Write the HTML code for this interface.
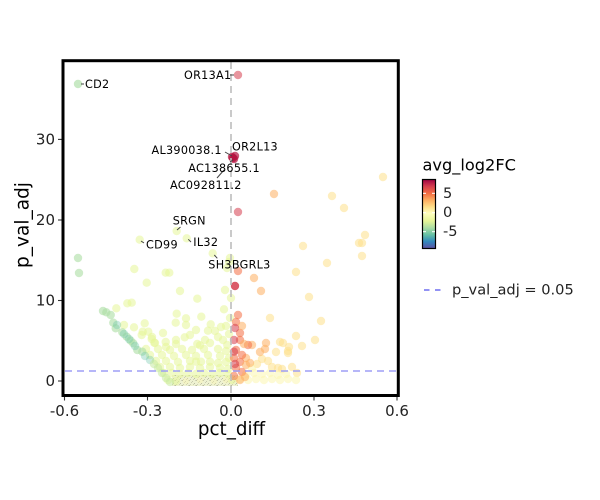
<!DOCTYPE html>
<html><head><meta charset="utf-8"><style>
html,body{margin:0;padding:0;background:#fff;}
svg{display:block;font-family:"DejaVu Sans","Liberation Sans",sans-serif;}
.g{fill:#e6f598;fill-opacity:.55}
.y{fill:#fbf5b0;fill-opacity:.55}
.m{fill:#abdda4;fill-opacity:.6}
.t{fill:#66c2a5;fill-opacity:.35}
.l{fill:#c7e9a0;fill-opacity:.55}
.p{fill:#fee08b;fill-opacity:.55}
.pk{fill:#fdae61;fill-opacity:.55}
.o{fill:#f46d43;fill-opacity:.55}
.r{fill:#d53e4f;fill-opacity:.55}
.rd{fill:#d53e4f;fill-opacity:.85}
.dr{fill:#b5133f;fill-opacity:.7}
</style></head><body>
<svg width="600" height="500" viewBox="0 0 600 500">
<defs>
<pattern id="sp" patternUnits="userSpaceOnUse" width="7" height="5">
<rect width="7" height="5" fill="#eef2d2"/>
<rect x="0" y="0" width="1" height="1" fill="#7a7a68" fill-opacity=".45"/>
<rect x="3" y="1" width="1" height="1" fill="#8a8a78" fill-opacity=".4"/>
<rect x="5" y="3" width="1" height="1" fill="#7a7a68" fill-opacity=".45"/>
<rect x="1" y="4" width="1" height="1" fill="#9a9a88" fill-opacity=".4"/>
<rect x="6" y="0" width="1" height="1" fill="#9a9a88" fill-opacity=".35"/>
<rect x="2" y="2" width="1" height="1" fill="#8a8a78" fill-opacity=".35"/>
<rect x="4" y="4" width="1" height="1" fill="#8a8a78" fill-opacity=".35"/>
</pattern>
<linearGradient id="cb" x1="0" y1="0" x2="0" y2="1">
<stop offset="0" stop-color="#9e0142"/>
<stop offset=".1" stop-color="#d53e4f"/>
<stop offset=".2" stop-color="#f46d43"/>
<stop offset=".3" stop-color="#fdae61"/>
<stop offset=".4" stop-color="#fee08b"/>
<stop offset=".49" stop-color="#ffffbf"/>
<stop offset=".6" stop-color="#e6f598"/>
<stop offset=".7" stop-color="#abdda4"/>
<stop offset=".8" stop-color="#66c2a5"/>
<stop offset=".9" stop-color="#3288bd"/>
<stop offset="1" stop-color="#5e4fa2"/>
</linearGradient>
</defs>
<rect width="600" height="500" fill="#fff"/>

<!-- speckle band -->
<rect x="172" y="375" width="66" height="11" fill="url(#sp)"/>

<g>
<!-- left sparse -->
<circle class="g" cx="139.7" cy="239.7" r="4.2"/><circle class="g" cx="176.7" cy="231" r="4.2"/><circle class="g" cx="186.7" cy="238.3" r="4.2"/><circle class="g" cx="212.7" cy="253.3" r="4.2"/><circle class="g" cx="134.3" cy="269" r="4.2"/><circle class="g" cx="165.7" cy="272.7" r="4.2"/><circle class="g" cx="169.3" cy="272.7" r="4.2"/><circle class="g" cx="146.7" cy="282.7" r="4.2"/><circle class="g" cx="180" cy="291" r="4.2"/><circle class="g" cx="197.3" cy="298.7" r="4.2"/><circle class="g" cx="131.7" cy="302.7" r="4.2"/><circle class="g" cx="127.3" cy="303.3" r="4.2"/><circle class="g" cx="116.3" cy="308.3" r="4.2"/><circle class="g" cx="224" cy="309.3" r="4.2"/><circle class="g" cx="201.3" cy="316.7" r="4.2"/><circle class="g" cx="186" cy="318.3" r="4.2"/><circle class="g" cx="230" cy="318" r="4.2"/><circle class="g" cx="230" cy="258" r="4.2"/><circle class="g" cx="227" cy="268" r="4.2"/><circle class="g" cx="231" cy="298" r="4.2"/><circle class="g" cx="176.7" cy="313.7" r="4.2"/><circle class="g" cx="210.7" cy="324.3" r="4.2"/><circle class="g" cx="144.7" cy="323.3" r="4.2"/><circle class="g" cx="175.7" cy="322.7" r="4.2"/><circle class="g" cx="134" cy="327.3" r="4.2"/><circle class="g" cx="196" cy="330" r="4.2"/><circle class="g" cx="208" cy="330.7" r="4.2"/><circle class="g" cx="142.7" cy="331.7" r="4.2"/><circle class="g" cx="148.3" cy="331.7" r="4.2"/><circle class="g" cx="141.7" cy="335" r="4.2"/><circle class="g" cx="151.7" cy="339" r="4.2"/><circle class="g" cx="184.7" cy="337.3" r="4.2"/><circle class="g" cx="197.3" cy="344" r="4.2"/><circle class="g" cx="200" cy="345.3" r="4.2"/><circle class="g" cx="165.7" cy="342" r="4.2"/><circle class="g" cx="154.3" cy="342.7" r="4.2"/><circle class="g" cx="218" cy="349" r="4.2"/><circle class="g" cx="227.3" cy="345" r="4.2"/>
<circle class="g" cx="124" cy="325" r="4.2"/><circle class="g" cx="186" cy="325" r="4.2"/><circle class="g" cx="163" cy="333" r="4.2"/><circle class="g" cx="190" cy="335" r="4.2"/><circle class="g" cx="215" cy="331" r="4.2"/><circle class="g" cx="221" cy="327" r="4.2"/><circle class="g" cx="205" cy="340" r="4.2"/><circle class="g" cx="229" cy="262" r="4.2"/><circle class="g" cx="225" cy="290" r="4.2"/><circle class="g" cx="226" cy="326" r="4.2"/><circle class="g" cx="229" cy="334" r="4.2"/><circle class="g" cx="223" cy="340" r="4.2"/>
<!-- dense rows -->
<circle class="g" cx="152" cy="337" r="4.2"/><circle class="g" cx="176" cy="340" r="4.2"/><circle class="g" cx="218" cy="337" r="4.2"/>
<circle class="g" cx="155" cy="343" r="4.2"/><circle class="g" cx="166" cy="347" r="4.2"/><circle class="g" cx="176" cy="344" r="4.2"/><circle class="g" cx="210" cy="343" r="4.2"/>
<circle class="g" cx="146" cy="349" r="4.2"/><circle class="g" cx="158" cy="349" r="4.2"/><circle class="g" cx="170" cy="350" r="4.2"/><circle class="g" cx="182" cy="349" r="4.2"/><circle class="g" cx="192" cy="350" r="4.2"/><circle class="g" cx="204" cy="349" r="4.2"/><circle class="g" cx="226" cy="351" r="4.2"/>
<circle class="g" cx="150" cy="355" r="4.2"/><circle class="g" cx="162" cy="355" r="4.2"/><circle class="g" cx="174" cy="356" r="4.2"/><circle class="g" cx="186" cy="355" r="4.2"/><circle class="g" cx="196" cy="356" r="4.2"/><circle class="g" cx="208" cy="355" r="4.2"/><circle class="g" cx="220" cy="356" r="4.2"/><circle class="g" cx="229" cy="358" r="4.2"/>
<circle class="g" cx="156" cy="361" r="4.2"/><circle class="g" cx="166" cy="361" r="4.2"/><circle class="g" cx="178" cy="362" r="4.2"/><circle class="g" cx="190" cy="361" r="4.2"/><circle class="g" cx="196" cy="361.7" r="4.2"/><circle class="g" cx="201" cy="361.7" r="4.2"/><circle class="g" cx="210" cy="361.7" r="4.2"/><circle class="g" cx="218" cy="363" r="4.2"/><circle class="g" cx="226" cy="362" r="4.2"/>
<circle class="g" cx="160" cy="367" r="4.2"/><circle class="g" cx="170" cy="367" r="4.2"/><circle class="g" cx="180" cy="368" r="4.2"/><circle class="g" cx="190" cy="367" r="4.2"/><circle class="g" cx="200" cy="368" r="4.2"/><circle class="g" cx="210" cy="367" r="4.2"/><circle class="g" cx="220" cy="368" r="4.2"/><circle class="g" cx="228" cy="369" r="4.2"/>
<circle class="g" cx="164" cy="373" r="4.2"/><circle class="g" cx="172" cy="373" r="4.2"/><circle class="g" cx="180" cy="374" r="4.2"/><circle class="g" cx="188" cy="373" r="4.2"/><circle class="g" cx="196" cy="374" r="4.2"/><circle class="g" cx="204" cy="373" r="4.2"/><circle class="g" cx="212" cy="374" r="4.2"/><circle class="g" cx="220" cy="373" r="4.2"/><circle class="g" cx="228" cy="374" r="4.2"/>
<circle class="g" cx="168" cy="380" r="4.2"/><circle class="g" cx="176" cy="381" r="4.2"/><circle class="g" cx="232" cy="380" r="4.2"/>
<!-- greens -->
<circle class="m" cx="78" cy="84" r="4.2" style="fill-opacity:.65"/>
<circle class="m" cx="78" cy="258" r="4.2"/><circle class="m" cx="79" cy="273" r="4.2"/>
<circle class="m" cx="103" cy="311" r="4.2"/><circle class="m" cx="106.3" cy="312.3" r="4.2"/><circle class="m" cx="110.7" cy="315" r="4.2"/><circle class="m" cx="113.3" cy="322.7" r="4.2"/><circle class="m" cx="115.7" cy="328.3" r="4.2"/><circle class="m" cx="122.3" cy="332.3" r="4.2"/><circle class="m" cx="126.7" cy="336.7" r="4.2"/><circle class="m" cx="130.7" cy="340.7" r="4.2"/><circle class="m" cx="133.3" cy="343.3" r="4.2"/><circle class="m" cx="137.3" cy="350" r="4.2"/><circle class="m" cx="142.3" cy="351.7" r="4.2"/>
<circle class="t" cx="117" cy="325" r="4.2"/><circle class="t" cx="124" cy="334" r="4.2"/><circle class="t" cx="129" cy="339" r="4.2"/><circle class="t" cx="135" cy="346" r="4.2"/><circle class="t" cx="145" cy="356" r="4.2"/><circle class="t" cx="150" cy="360" r="4.2"/>
<circle class="l" cx="154" cy="364" r="4.2"/><circle class="l" cx="158" cy="368" r="4.2"/><circle class="l" cx="162" cy="373" r="4.2"/><circle class="l" cx="166" cy="378" r="4.2"/><circle class="l" cx="170" cy="382" r="4.2"/>
<!-- right light -->
<circle class="p" cx="383" cy="177" r="4.2"/><circle class="p" cx="332" cy="196" r="4.2"/><circle class="p" cx="344" cy="208" r="4.2"/><circle class="p" cx="365" cy="235" r="4.2"/><circle class="p" cx="359" cy="243" r="4.2"/><circle class="p" cx="362" cy="243" r="4.2"/><circle class="p" cx="303" cy="246" r="4.2"/><circle class="p" cx="362" cy="256" r="4.2"/><circle class="p" cx="327" cy="263" r="4.2"/><circle class="p" cx="296" cy="272" r="4.2"/><circle class="p" cx="309" cy="297" r="4.2"/><circle class="p" cx="270" cy="318" r="4.2"/><circle class="p" cx="321" cy="321" r="4.2"/><circle class="p" cx="296" cy="336" r="4.2"/><circle class="p" cx="315" cy="340" r="4.2"/><circle class="p" cx="302" cy="346" r="4.2"/><circle class="p" cx="280" cy="342" r="4.2"/><circle class="p" cx="283" cy="343" r="4.2"/><circle class="p" cx="289" cy="347" r="4.2"/><circle class="p" cx="276" cy="352" r="4.2"/><circle class="p" cx="288" cy="351" r="4.2"/><circle class="p" cx="288" cy="353" r="4.2"/><circle class="p" cx="262" cy="359" r="4.2"/><circle class="p" cx="268" cy="361" r="4.2"/><circle class="p" cx="257" cy="364" r="4.2"/><circle class="p" cx="272" cy="367" r="4.2"/><circle class="p" cx="278" cy="368" r="4.2"/><circle class="p" cx="282" cy="369" r="4.2"/><circle class="p" cx="292" cy="367" r="4.2"/><circle class="p" cx="297" cy="373" r="4.2"/>
<circle class="y" cx="240" cy="379" r="4.2"/><circle class="y" cx="248" cy="380" r="4.2"/><circle class="y" cx="256" cy="379" r="4.2"/><circle class="y" cx="264" cy="380" r="4.2"/><circle class="y" cx="272" cy="379" r="4.2"/><circle class="y" cx="280" cy="380" r="4.2"/><circle class="y" cx="288" cy="379" r="4.2"/><circle class="y" cx="296" cy="380" r="4.2"/>
<circle class="y" cx="246" cy="374" r="4.2"/><circle class="y" cx="254" cy="373" r="4.2"/><circle class="y" cx="262" cy="374" r="4.2"/><circle class="y" cx="270" cy="373" r="4.2"/><circle class="y" cx="278" cy="375" r="4.2"/><circle class="y" cx="286" cy="374" r="4.2"/><circle class="y" cx="252" cy="368" r="4.2"/>
<circle class="y" cx="186" cy="381" r="3.5" style="fill-opacity:.35"/><circle class="y" cx="200" cy="380" r="3.5" style="fill-opacity:.35"/><circle class="y" cx="214" cy="381" r="3.5" style="fill-opacity:.35"/><circle class="y" cx="226" cy="380" r="3.5" style="fill-opacity:.35"/>
<!-- peach -->
<circle class="pk" cx="274" cy="194" r="4.2"/><circle class="pk" cx="254" cy="278" r="4.2"/><circle class="pk" cx="261" cy="291" r="4.2"/><circle class="pk" cx="266" cy="343" r="4.2"/><circle class="pk" cx="252" cy="345" r="4.2"/><circle class="pk" cx="260" cy="352" r="4.2"/><circle class="pk" cx="265" cy="349" r="4.2"/><circle class="pk" cx="246" cy="358" r="4.2"/><circle class="pk" cx="250" cy="363" r="4.2"/>
<!-- orange column -->
<circle class="o" cx="238" cy="271" r="4.2"/><circle class="o" cx="238" cy="315" r="4.2"/><circle class="o" cx="240" cy="333" r="4.2"/><circle class="o" cx="248" cy="345" r="4.2"/>
<circle class="o" cx="236" cy="322" r="4.2"/><circle class="pk" cx="242" cy="326" r="4.2"/><circle class="o" cx="240" cy="340" r="4.2"/><circle class="pk" cx="244" cy="344" r="4.2"/><circle class="o" cx="236" cy="350" r="4.2"/><circle class="o" cx="242" cy="355" r="4.2"/><circle class="o" cx="234" cy="358" r="4.2"/><circle class="o" cx="240" cy="362" r="4.2"/><circle class="pk" cx="246" cy="365" r="4.2"/><circle class="o" cx="236" cy="368" r="4.2"/><circle class="o" cx="242" cy="372" r="4.2"/><circle class="o" cx="234" cy="376" r="4.2"/><circle class="pk" cx="240" cy="380" r="4.2"/><circle class="pk" cx="245" cy="377" r="4.2"/>
<!-- reds -->
<circle class="r" cx="238" cy="75" r="4.2"/><circle class="r" cx="238" cy="212" r="4.2"/>
<circle class="rd" cx="235" cy="286" r="4.2"/><circle class="r" cx="235" cy="328" r="4.2"/><circle class="r" cx="234" cy="340" r="4.2"/><circle class="r" cx="234" cy="351.7" r="4.2"/><circle class="r" cx="235" cy="364" r="4.2"/>
<circle class="dr" cx="233" cy="158" r="4.2"/><circle class="dr" cx="235" cy="156" r="4.2"/><circle class="dr" cx="234" cy="159" r="4.2"/><circle class="dr" cx="232" cy="157" r="4.2"/>
</g>

<!-- reference lines -->
<line x1="231" y1="62" x2="231" y2="394" stroke="#bdbdbd" stroke-width="1.6" stroke-dasharray="7,5"/>
<line x1="65" y1="371" x2="397" y2="371" stroke="#9d9df5" stroke-width="1.6" stroke-dasharray="7,5"/>

<!-- label segments -->
<g stroke="#444" stroke-width="1">
<line x1="230" y1="75" x2="234" y2="75"/>
<line x1="81" y1="84" x2="84" y2="84"/>
<line x1="225" y1="152" x2="232" y2="156"/>
<line x1="217" y1="178" x2="224" y2="170"/>
<line x1="230" y1="162" x2="233" y2="160"/>
<line x1="177" y1="230" x2="180.5" y2="227"/>
<line x1="141" y1="241" x2="144" y2="243"/>
<line x1="188.3" y1="239.3" x2="191" y2="242"/>
<line x1="214.3" y1="255" x2="217.3" y2="258.3"/>
</g>
<g font-size="11.2" fill="#000" dominant-baseline="central" letter-spacing="0.3">
<text x="184" y="75.5">OR13A1</text>
<text x="85" y="84.5">CD2</text>
<text x="232" y="146.8">OR2L13</text>
<text x="151.5" y="150.7">AL390038.1</text>
<text x="188.3" y="168.3">AC138655.1</text>
<text x="170" y="185.7">AC092811.2</text>
<text x="172.7" y="221">SRGN</text>
<text x="146" y="245">CD99</text>
<text x="193.3" y="242.7">IL32</text>
<text x="208.3" y="265">SH3BGRL3</text>
</g>

<!-- panel border -->
<rect x="63" y="60.7" width="335.3" height="334.8" fill="none" stroke="#000" stroke-width="3"/>

<!-- ticks -->
<g stroke="#333" stroke-width="1.1">
<line x1="58" y1="381" x2="61.5" y2="381"/><line x1="58" y1="300.5" x2="61.5" y2="300.5"/><line x1="58" y1="220" x2="61.5" y2="220"/><line x1="58" y1="139.4" x2="61.5" y2="139.4"/>
<line x1="64.5" y1="397" x2="64.5" y2="400.5"/><line x1="147.5" y1="397" x2="147.5" y2="400.5"/><line x1="231" y1="397" x2="231" y2="400.5"/><line x1="314" y1="397" x2="314" y2="400.5"/><line x1="397" y1="397" x2="397" y2="400.5"/>
</g>
<g font-size="15" fill="#222" text-anchor="end" dominant-baseline="central">
<text x="55" y="381">0</text><text x="55" y="300.5">10</text><text x="55" y="220">20</text><text x="55" y="139.4">30</text>
</g>
<g font-size="15" fill="#222" text-anchor="middle">
<text x="64.5" y="416">-0.6</text><text x="147.5" y="416">-0.3</text><text x="231" y="416">0.0</text><text x="314" y="416">0.3</text><text x="397" y="416">0.6</text>
</g>
<text x="231.5" y="435" font-size="18.3" text-anchor="middle" fill="#000">pct_diff</text>
<text transform="translate(28.5,225) rotate(-90)" font-size="18.5" text-anchor="middle" fill="#000">p_val_adj</text>

<!-- legend -->
<text x="422.5" y="170.5" font-size="16.2" fill="#000">avg_log2FC</text>
<rect x="422.5" y="179.5" width="13" height="69" fill="url(#cb)" stroke="#000" stroke-width="1.2"/>
<g stroke="#fff" stroke-width="1">
<line x1="423" y1="193.3" x2="426" y2="193.3"/><line x1="432" y1="193.3" x2="435" y2="193.3"/>
<line x1="423" y1="212.7" x2="426" y2="212.7"/><line x1="432" y1="212.7" x2="435" y2="212.7"/>
<line x1="423" y1="231.7" x2="426" y2="231.7"/><line x1="432" y1="231.7" x2="435" y2="231.7"/>
</g>
<g font-size="14.6" fill="#222" dominant-baseline="central">
<text x="443" y="193.3">5</text><text x="443" y="212.7">0</text><text x="443" y="231.7">-5</text>
</g>
<line x1="424" y1="290" x2="441" y2="290" stroke="#6f6ff0" stroke-width="1.6" stroke-dasharray="5.5,5.5"/>
<text x="452" y="290" font-size="14.6" fill="#222" dominant-baseline="central">p_val_adj = 0.05</text>
</svg>
</body></html>
